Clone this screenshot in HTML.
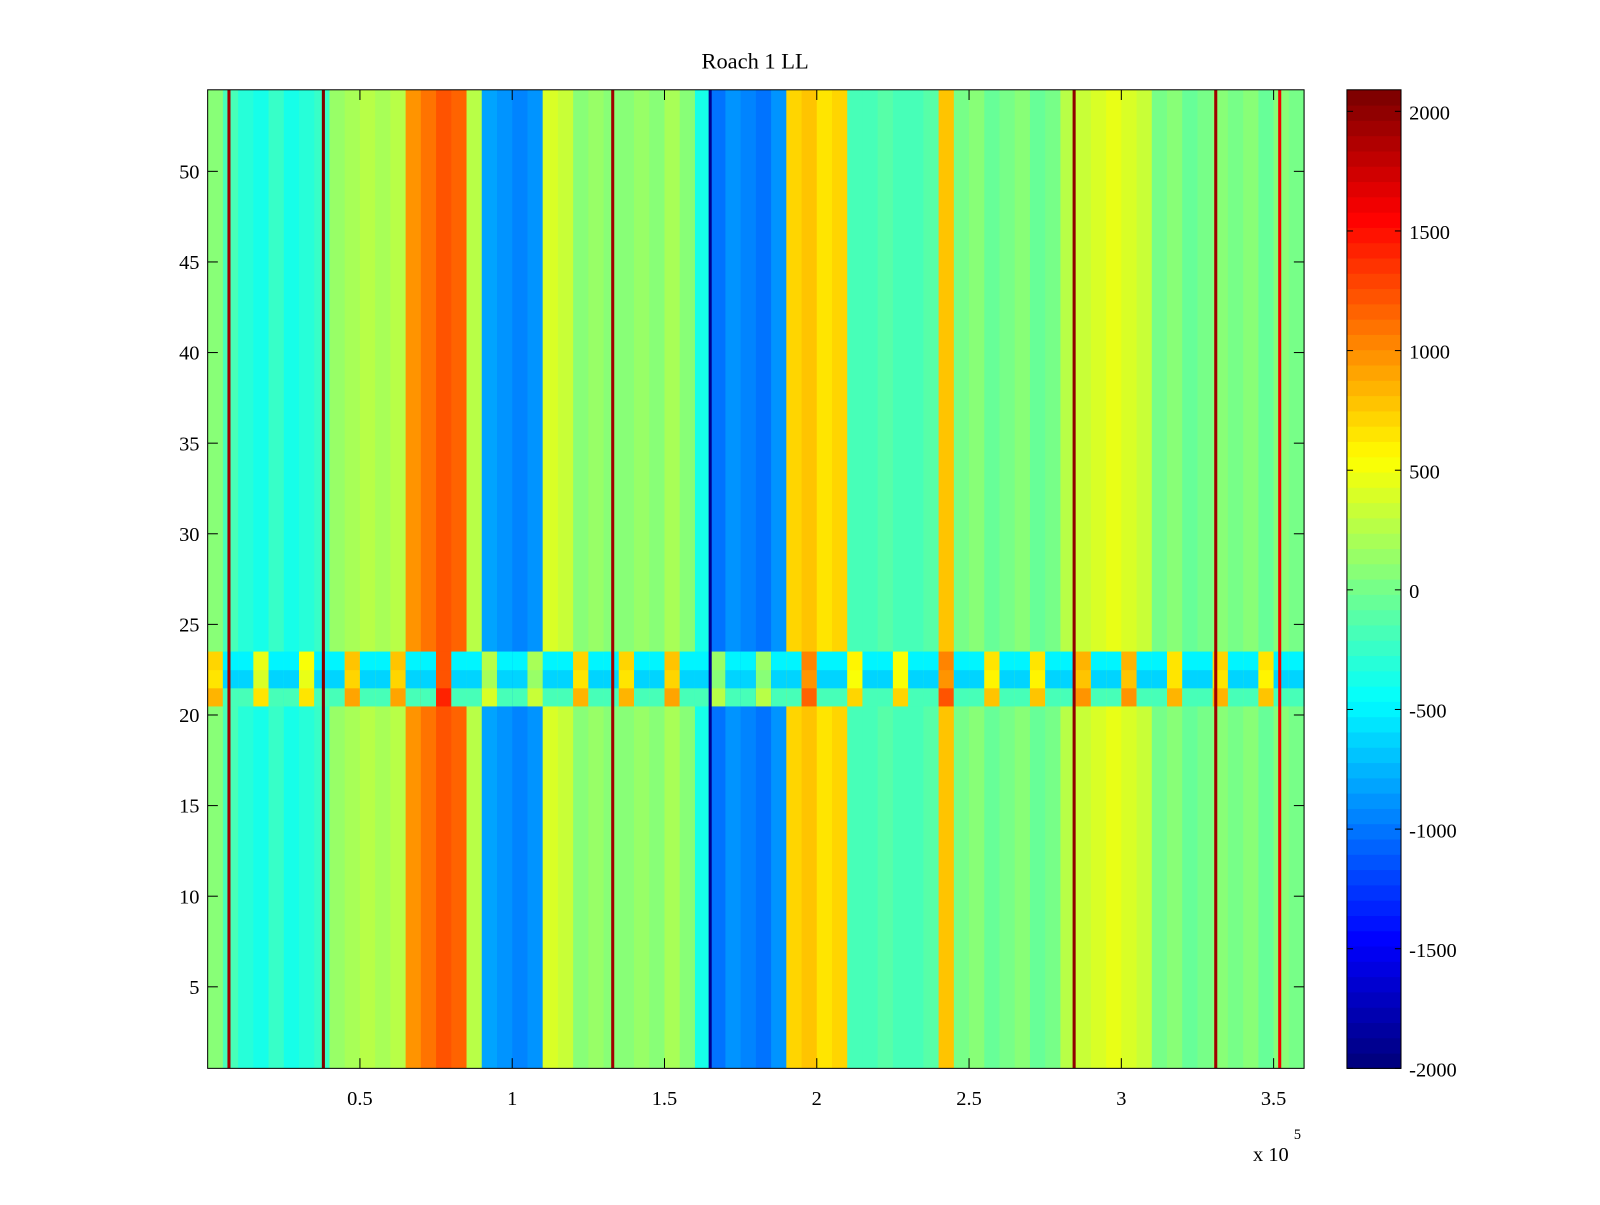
<!DOCTYPE html>
<html><head><meta charset="utf-8"><style>
body{margin:0;background:#fff;}
svg text{font-family:"Liberation Serif",serif;fill:#000;}
</style></head><body>
<svg id="chart" width="1600" height="1200" viewBox="0 0 1600 1200" xmlns="http://www.w3.org/2000/svg">
<rect width="1600" height="1200" fill="#fff"/>
<g transform="scale(1.0204)">
<text x="740" y="67" font-size="22" text-anchor="middle">Roach 1 LL</text>
<g id="plot"></g>
<g id="cbar"></g>
<text x="1228" y="1138" font-size="20">x 10</text>
<text x="1268" y="1116" font-size="14">5</text>
</g>
</svg>
<script>
// Column mean values (bin width 5000 along x, from 0 to 360000)
const colValues = [
 100,-200,-300,-350,-250,-350,-300,-250,150,200,250,200,250,1000,1100,1200,1150,300,-800,-900,
 -950,-900,400,350,100,150,50,100,150,100,200,100,-400,-1000,-900,-950,-1000,-900,700,750,
 650,700,-150,-200,-100,-200,-150,-100,800,0,50,-50,0,100,-50,0,300,350,400,450,
 400,350,0,50,-50,0,100,0,50,-50,100,0
];
// Thin vertical lines (x in data units, value)
const lineX = [7000,38000,133000,165000,284500,331000,352000];
const lineV = [1950,2050,1950,-1900,2000,1950,1600];
// Rows with anomalous band (row index, value)
const bandRows = [21,22,23];
const bandVals = [-200,-600,-500];
const xTicks = [0.5,1,1.5,2,2.5,3,3.5];
const yTicks = [5,10,15,20,25,30,35,40,45,50];
const cTicks = [2000,1500,1000,500,0,-500,-1000,-1500,-2000];

const X0=203.5,X1=1278,XMAX=360000,PT=88,PB=1047;
const xs=v=>X0+(v/XMAX)*(X1-X0);
const ys=r=>PB-(r-0.5)*(PB-PT)/54;
const CMIN=-2000,CMAX=2090;
function jet(v){
  let t=(v-CMIN)/(CMAX-CMIN);t=Math.max(0,Math.min(1,t));
  t=Math.floor(t*63.999)/63;
  const f=c=>Math.round(255*Math.max(0,Math.min(1,1.5-Math.abs(4*t-c))));
  return `rgb(${f(3)},${f(2)},${f(1)})`;
}
const NS="http://www.w3.org/2000/svg";
function mk(tag,attrs,parent){const e=document.createElementNS(NS,tag);for(const k in attrs)e.setAttribute(k,attrs[k]);parent.appendChild(e);return e;}
const plot=document.getElementById('plot');
const bw=5000;
colValues.forEach((v,i)=>{
  const x=xs(i*bw),w=xs((i+1)*bw)-x;
  const r=mk('rect',{x:x,y:PT,width:w+0.5,height:PB-PT,fill:jet(v)},plot);
  
  
  bandRows.forEach((row,j)=>{
    const bv=(i%3===0)?(v+bandVals[j])/2+900:bandVals[j];
    const b=mk('rect',{x:x,y:ys(row+0.5),width:w+0.5,height:ys(row-0.5)-ys(row+0.5)+0.5,fill:jet(bv)},plot);
    
    
  });
});
lineX.forEach((lx,i)=>{
  const l=mk('rect',{x:xs(lx)-1.5,y:PT,width:3,height:PB-PT,fill:jet(lineV[i])},plot);
  
  
});
const frame=mk('rect',{x:X0,y:PT,width:X1-X0,height:PB-PT,fill:'none',stroke:'#000','stroke-width':1},plot);


xTicks.forEach(t=>{
  const x=xs(t*1e5);
  mk('line',{x1:x,x2:x,y1:PB,y2:PB-10,stroke:'#000'},plot);
  mk('line',{x1:x,x2:x,y1:PT,y2:PT+10,stroke:'#000'},plot);
  const tx=mk('text',{x:x,y:PB+36,'font-size':20,'text-anchor':'middle'},plot);tx.textContent=t;
  
  
});
yTicks.forEach(t=>{
  const y=ys(t);
  mk('line',{x1:X0,x2:X0+10,y1:y,y2:y,stroke:'#000'},plot);
  mk('line',{x1:X1,x2:X1-10,y1:y,y2:y,stroke:'#000'},plot);
  const tx=mk('text',{x:X0-8,y:y+7,'font-size':20,'text-anchor':'end'},plot);tx.textContent=t;
  
  
});
// colorbar
const cb=document.getElementById('cbar');
const CX0=1320,CX1=1373;
const cy=v=>PB-(v-CMIN)/(CMAX-CMIN)*(PB-PT);
for(let k=0;k<64;k++){
  const v0=CMIN+k*(CMAX-CMIN)/64,v1=CMIN+(k+1)*(CMAX-CMIN)/64;
  const r=mk('rect',{x:CX0,y:cy(v1),width:CX1-CX0,height:cy(v0)-cy(v1)+0.5,fill:jet((v0+v1)/2)},cb);
  
  
}
mk('rect',{x:CX0,y:PT,width:CX1-CX0,height:PB-PT,fill:'none',stroke:'#000'},cb);
cTicks.forEach(t=>{
  const y=cy(t);
  mk('line',{x1:CX1,x2:CX1-6,y1:y,y2:y,stroke:'#000'},cb);
  mk('line',{x1:CX0,x2:CX0+6,y1:y,y2:y,stroke:'#000'},cb);
  const tx=mk('text',{x:CX1+8,y:y+8,'font-size':20},cb);tx.textContent=t;
  
  
});
</script>
</body></html>
